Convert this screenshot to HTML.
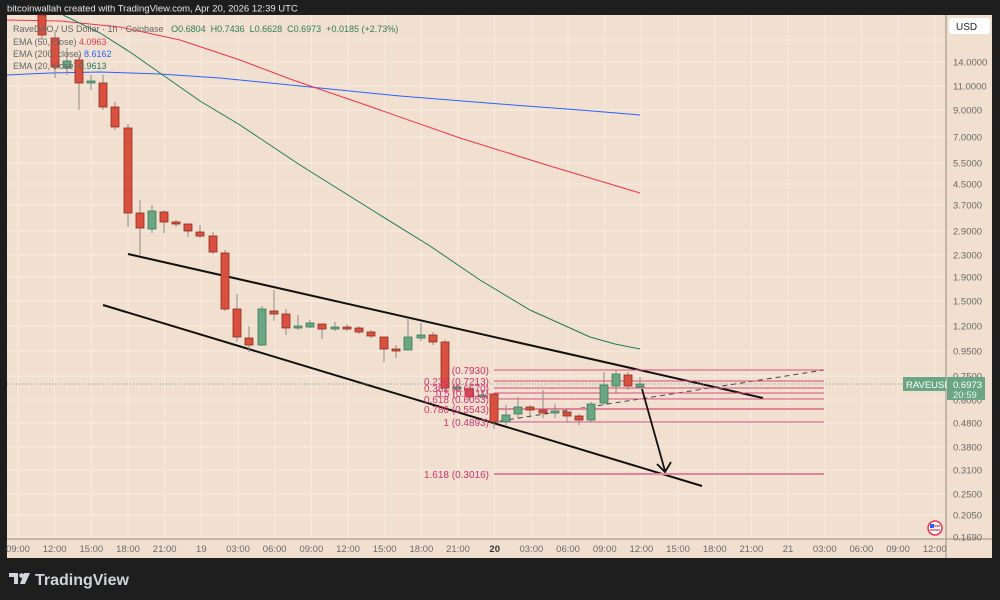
<!DOCTYPE html>
<html><head><meta charset="utf-8"><style>
html,body{margin:0;padding:0;background:#1e1e1e;width:1000px;height:600px;overflow:hidden}
svg{display:block}
text{font-family:"Liberation Sans",sans-serif}
</style></head><body>
<svg id="s" width="1000" height="600" xmlns="http://www.w3.org/2000/svg">
<rect x="0" y="0" width="1000" height="600" fill="#1e1e1e"/>
<rect x="7" y="15" width="985" height="543" fill="#f1e0d0"/>
<g id="grid" stroke="#f6ebe2" stroke-width="1"></g>
<line x1="946" y1="15" x2="946" y2="558" stroke="#b5a99e" stroke-width="1.5"/>
<line x1="7" y1="539" x2="992" y2="539" stroke="#b5a99e" stroke-width="1.5"/>
<g id="ylab" font-size="9.5" fill="#6a6a6a"></g>
<g id="xlab" font-size="9.5" fill="#6a6a6a"></g>
<!-- EMAs -->
<polyline fill="none" stroke="#2962ff" stroke-width="1" points="7,75 50,73 100,72 160,74 220,78 300,86 400,96 500,104 580,110 640,115"/>
<polyline fill="none" stroke="#f23645" stroke-width="1" points="7,20 60,21 120,27 180,40 240,60 290,79 360,103 460,138 550,166 640,193"/>
<polyline fill="none" stroke="#1e7a5c" stroke-width="1" points="63,15 100,33 130,52 170,80 200,101 240,125 300,165 380,215 430,246 480,280 530,310 590,337 615,344 640,349"/>
<!-- trendlines -->
<line x1="128" y1="254" x2="763" y2="398" stroke="#111" stroke-width="2"/>
<line x1="103" y1="305" x2="702" y2="486" stroke="#111" stroke-width="2"/>
<line x1="500" y1="421" x2="824" y2="370" stroke="#444" stroke-width="1" stroke-dasharray="5,4"/>
<!-- fib -->
<g stroke="#d94b7b" stroke-width="1">
<line x1="494" y1="370" x2="824" y2="370"/>
<line x1="494" y1="381" x2="824" y2="381"/>
<line x1="494" y1="388" x2="824" y2="388"/>
<line x1="494" y1="393" x2="824" y2="393"/>
<line x1="494" y1="399" x2="824" y2="399"/>
<line x1="494" y1="409" x2="824" y2="409" stroke-width="2" stroke="#e0849d"/>
<line x1="494" y1="422" x2="824" y2="422"/>
<line x1="494" y1="474" x2="824" y2="474" stroke-width="2" stroke="#e0849d"/>
</g>
<line x1="7" y1="384" x2="946" y2="384" stroke="#6aa584" stroke-width="1" stroke-dasharray="1,2"/>
<g id="candles"></g>
<g font-size="10" fill="#d6336c" text-anchor="end">
<text x="489" y="374">(0.7930)</text>
<text x="489" y="385">0.236 (0.7213)</text>
<text x="489" y="392">0.382 (0.6570)</text>
<text x="489" y="397">0.5 (0.6411)</text>
<text x="489" y="403">0.618 (0.6053)</text>
<text x="489" y="413">0.786 (0.5543)</text>
<text x="489" y="426">1 (0.4893)</text>
<text x="489" y="478">1.618 (0.3016)</text>
</g>
<!-- arrow -->
<line x1="642" y1="389" x2="665" y2="471" stroke="#111" stroke-width="1.8"/>
<polyline points="657,464 665,472 671,462" fill="none" stroke="#111" stroke-width="1.8"/>
<!-- legend -->
<g font-size="9" fill="#666">
<text x="13" y="32">RaveDAO / US Dollar · 1h · Coinbase <tspan fill="#2e7d5b" xml:space="preserve">  O0.6804  H0.7436  L0.6628  C0.6973  +0.0185 (+2.73%)</tspan></text>
<text x="13" y="45">EMA (50, close) <tspan fill="#f23645">4.0963</tspan></text>
<text x="13" y="57">EMA (200, close) <tspan fill="#2962ff">8.6162</tspan></text>
<text x="13" y="69">EMA (20, close) <tspan fill="#1e7a5c">0.9613</tspan></text>
</g>
<text x="7" y="11.5" font-size="9.5" fill="#e6e6e6">bitcoinwallah created with TradingView.com, Apr 20, 2026 12:39 UTC</text>
<!-- USD box -->
<rect x="949" y="18" width="41" height="16" rx="3" fill="#ffffff"/>
<text x="956" y="30" font-size="10" fill="#222">USD</text>
<!-- price labels -->
<rect x="903" y="377" width="43" height="14" fill="#6aa584"/>
<text x="906" y="388" font-size="9.5" fill="#fff">RAVEUSD</text>
<rect x="947" y="377" width="38" height="23" fill="#6aa584"/>
<text x="953" y="388" font-size="9.5" fill="#fff">0.6973</text>
<text x="953" y="398" font-size="9.5" fill="#e8f3ec">20:59</text>
<!-- flag -->
<circle cx="935" cy="528" r="7" fill="#fff" stroke="#e8344a" stroke-width="1.5"/>
<rect x="930" y="524" width="4" height="4" fill="#2962ff"/>
<line x1="930" y1="530" x2="940" y2="530" stroke="#e8344a" stroke-width="1.2"/>
<line x1="934" y1="526" x2="940" y2="526" stroke="#e8344a" stroke-width="1.2"/>
<!-- logo -->
<g fill="#d1d4dc">
<path d="M9,573 h9 v11 h-4 v-7 h-5z"/>
<circle cx="21.5" cy="575.5" r="2.3"/>
<path d="M24,573 h6 l-5,11 h-5z"/>
</g>
<text x="35" y="585" font-size="16" font-weight="bold" fill="#d1d4dc">TradingView</text>
<script>
var ns="http://www.w3.org/2000/svg";
function el(p,t,a,txt){var e=document.createElementNS(ns,t);for(var k in a)e.setAttribute(k,a[k]);if(txt!=null)e.textContent=txt;p.appendChild(e);return e;}
var g=document.getElementById('grid');
var yl=[["17.0000",40],["14.0000",62],["11.0000",86],["9.0000",110],["7.0000",137],["5.5000",163],["4.5000",184],["3.7000",205],["2.9000",231],["2.3000",255],["1.9000",277],["1.5000",301],["1.2000",326],["0.9500",351],["0.7500",376],["0.6000",400],["0.4800",423],["0.3800",447],["0.3100",470],["0.2500",494],["0.2050",515],["0.1690",537]];
var ylg=document.getElementById('ylab');
yl.forEach(function(v){el(g,'line',{x1:7,x2:946,y1:v[1],y2:v[1]});if(v[1]>45)el(ylg,'text',{x:953,y:v[1]+3.5},v[0]);});
var xl=["09:00","12:00","15:00","18:00","21:00","19","03:00","06:00","09:00","12:00","15:00","18:00","21:00","20","03:00","06:00","09:00","12:00","15:00","18:00","21:00","21","03:00","06:00","09:00","12:00"];
var xlg=document.getElementById('xlab');
xl.forEach(function(t,i){var x=18+i*36.67;el(g,'line',{x1:x,x2:x,y1:15,y2:539});var a={x:x,y:552,'text-anchor':'middle'};if(t=="20"){a['font-weight']='bold';a.fill='#333';}el(xlg,'text',a,t);});
var C=[[42,15,35,15,40,'r'],[55,38,67,30,78,'r'],[67,61,68,48,75,'g'],[79,60,83,55,110,'r'],[91,81,83,75,90,'g'],[103,83,107,75,110,'r'],[115,107,127,102,130,'r'],
[128,128,213,124,227,'r'],[140,213,228,200,255,'r'],[152,211,229,205,233,'g'],[164,212,222,210,233,'r'],[176,222,224,220,227,'r'],[188,224,231,225,237,'r'],[200,232,236,225,238,'r'],[213,236,252,232,254,'r'],[225,253,309,250,311,'r'],[237,309,337,294,342,'r'],[249,338,345,326,352,'r'],[262,309,345,306,346,'g'],[274,311,314,290,321,'r'],[286,314,328,309,335,'r'],[298,326,328,315,330,'g'],[310,323,327,320,328,'g'],[322,324,329,324,339,'r'],[335,327,329,322,331,'g'],[347,327,329,324,331,'r'],[359,328,332,326,334,'r'],[371,332,336,330,338,'r'],[384,337,349,337,362,'r'],[396,349,351,345,358,'r'],[408,337,350,318,350,'g'],[421,335,338,323,341,'g'],[433,335,342,332,345,'r'],[445,342,388,340,390,'r'],[457,387,389,384,392,'g'],[469,389,397,387,400,'r'],[482,395,397,392,399,'g'],[494,394,422,393,429,'r'],[506,415,422,405,425,'g'],[518,407,414,397,418,'g'],[530,407,410,405,418,'r'],[543,410,413,390,418,'r'],[555,411,413,404,418,'g'],[567,412,416,408,422,'r'],[579,416,420,414,425,'r'],[591,404,420,402,422,'g'],[604,385,403,372,405,'g'],[616,374,386,370,394,'g'],[628,375,386,372,390,'r'],[640,384,387,377,388,'g']];
var cg=document.getElementById('candles');
C.forEach(function(c){el(cg,'line',{x1:c[0],x2:c[0],y1:c[3],y2:c[4],stroke:'#8f8a86','stroke-width':1});
var r=c[5]=='r';el(cg,'rect',{x:c[0]-4,y:c[1],width:8,height:Math.max(1.5,c[2]-c[1]),fill:r?'#d9503f':'#6aa584',stroke:r?'#8e2c22':'#3c7a58','stroke-width':0.8});});
</script>
</svg>
</body></html>
